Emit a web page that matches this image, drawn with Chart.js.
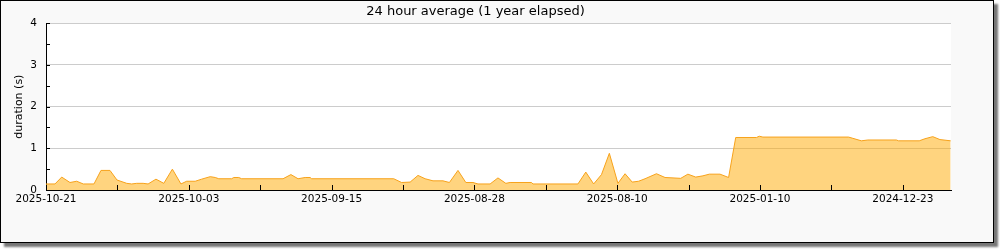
<!DOCTYPE html>
<html>
<head>
<meta charset="utf-8">
<script src="https://cdn.jsdelivr.net/npm/chart.js@4.4.1/dist/chart.umd.min.js"></script>
<style>
  html, body { margin: 0; padding: 0; background: #ffffff; }
  #frame { position: absolute; left: 0; top: 0; width: 992px; height: 241px; border: 1px solid #000; background: #f9f9f9; box-shadow: 4px 4px 2px #777; }
  #c { position: absolute; left: 0; top: 0; }
</style>
</head>
<body>
<div id="frame"></div>
<canvas id="c" width="1000" height="250"></canvas>
<script>
// Sample positions along the x axis (10 units = one tick interval)
const SAMPLE_POS = [0, 1.26, 2.2, 3.36, 4.3, 5.22, 6.72, 7.7, 8.96, 9.94, 11.3, 12.0, 12.7, 13.6, 14.3, 15.4, 16.5, 17.7, 18.9, 19.7, 20.9, 21.8, 23.0, 23.7, 24.2, 26.0, 26.3, 27.0, 27.4, 33.2, 34.3, 35.3, 36.3, 37.0, 37.2, 48.7, 49.8, 51.0, 52.1, 53.1, 54.2, 55.6, 56.5, 57.7, 58.8, 59.8, 60.5, 62.2, 63.3, 64.4, 65.0, 68.0, 68.2, 74.5, 75.6, 76.7, 77.8, 78.9, 80.1, 81.1, 82.1, 83.0, 83.9, 85.5, 86.7, 88.9, 89.9, 91.0, 92.0, 92.9, 94.4, 95.6, 96.6, 99.5, 99.9, 100.4, 112.4, 113.0, 114.2, 115.1, 119.1, 119.4, 122.3, 123.1, 124.2, 125.2, 126.7];
// 24 hour average duration in seconds
const AVG_SECONDS = [0.145, 0.145, 0.31, 0.18, 0.21, 0.145, 0.145, 0.47, 0.47, 0.24, 0.16, 0.145, 0.16, 0.16, 0.145, 0.26, 0.16, 0.5, 0.145, 0.21, 0.21, 0.26, 0.32, 0.30, 0.27, 0.27, 0.30, 0.30, 0.27, 0.27, 0.37, 0.27, 0.30, 0.30, 0.27, 0.27, 0.18, 0.19, 0.35, 0.27, 0.22, 0.22, 0.18, 0.47, 0.18, 0.18, 0.145, 0.145, 0.29, 0.16, 0.18, 0.18, 0.145, 0.145, 0.43, 0.145, 0.37, 0.88, 0.16, 0.39, 0.19, 0.21, 0.27, 0.39, 0.30, 0.28, 0.38, 0.31, 0.34, 0.38, 0.38, 0.30, 1.26, 1.26, 1.29, 1.27, 1.27, 1.24, 1.18, 1.20, 1.20, 1.18, 1.18, 1.23, 1.28, 1.21, 1.18];
// Labels for the x tick marks (every other tick labelled)
const X_TICK_LABELS = ["2025-10-21", "", "2025-10-03", "", "2025-09-15", "", "2025-08-28", "", "2025-08-10", "", "2025-01-10", "", "2024-12-23"];
const Y_TICKS = [0, 1, 2, 3, 4];

const FONT = 'DejaVu Sans';

const plotBg = {
  id: 'plotBg',
  beforeDraw(chart) {
    const {ctx, chartArea: a} = chart;
    ctx.save();
    ctx.fillStyle = '#ffffff';
    ctx.fillRect(a.left, a.top, a.right - a.left, a.bottom - a.top);
    ctx.restore();
  }
};

const inwardTicks = {
  id: 'inwardTicks',
  afterDatasetsDraw(chart) {
    const {ctx, chartArea: a, scales: {x, y}} = chart;
    ctx.save();
    ctx.strokeStyle = '#000';
    ctx.lineWidth = 1;
    ctx.beginPath();
    y.ticks.forEach(t => {
      const py = Math.round(y.getPixelForValue(t.value)) + 0.5;
      ctx.moveTo(a.left, py); ctx.lineTo(a.left + 4, py);
    });
    x.ticks.forEach(t => {
      const px = Math.round(x.getPixelForValue(t.value)) + 0.5;
      ctx.moveTo(px, a.bottom); ctx.lineTo(px, a.bottom - 5);
    });
    ctx.stroke();
    ctx.restore();
  }
};

new Chart(document.getElementById('c'), {
  type: 'line',
  data: {
    datasets: [{
      data: SAMPLE_POS.map((p, i) => ({x: p, y: AVG_SECONDS[i]})),
      borderColor: '#f7a21b',
      backgroundColor: 'rgba(255,170,0,0.5)',
      borderWidth: 1,
      fill: 'origin',
      pointRadius: 0,
      tension: 0
    }]
  },
  options: {
    responsive: false,
    animation: false,
    layout: { padding: { left: 0, right: 49, top: 0, bottom: 0 } },
    plugins: {
      legend: { display: false },
      tooltip: { enabled: false },
      title: {
        display: true,
        text: '24 hour average (1 year elapsed)',
        color: '#000',
        font: { family: FONT, size: 13, weight: 'normal' },
        padding: { top: 3.5, bottom: 4.2 }
      }
    },
    scales: {
      x: {
        type: 'linear',
        min: 0,
        max: 126.75,
        afterFit(s) { s.height = 60; },
        border: { color: '#000', width: 1 },
        grid: { display: false, drawTicks: false },
        ticks: {
          stepSize: 10,
          includeBounds: false,
          autoSkip: false,
          maxRotation: 0,
          padding: 3,
          color: '#000',
          font: { family: FONT, size: 10.5 },
          callback: (v) => X_TICK_LABELS[Math.round(v / 10)] ?? ''
        }
      },
      y: {
        min: 0,
        max: 4,
        afterFit(s) { s.width = 46; },
        border: { color: '#000', width: 1 },
        grid: {
          drawTicks: false,
          color: (c) => (c.tick && Y_TICKS.includes(c.tick.value) && c.tick.value !== 0) ? '#cccccc' : 'rgba(0,0,0,0)'
        },
        ticks: {
          stepSize: 0.5,
          padding: 9,
          color: '#000',
          font: { family: FONT, size: 10.5 },
          callback: (v) => Y_TICKS.includes(v) ? String(v) : ''
        },
        title: {
          display: true,
          text: 'duration (s)',
          color: '#000',
          font: { family: FONT, size: 11 },
          padding: { top: 12.4, bottom: 0 }
        }
      }
    }
  },
  plugins: [plotBg, inwardTicks]
});
</script>
</body>
</html>
